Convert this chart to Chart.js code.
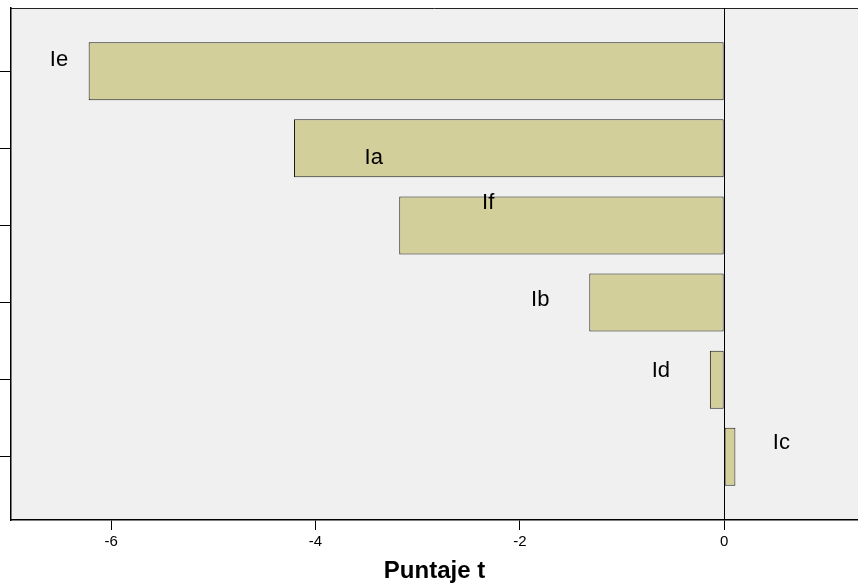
<!DOCTYPE html>
<html lang="es">
<head>
  <meta charset="UTF-8">
  <title>Puntaje t</title>
  <script src="https://cdn.jsdelivr.net/npm/chart.js"></script>
  <style>
    body { margin: 0; background: #ffffff; }
    #wrap { width: 858px; height: 587px; }
  </style>
</head>
<body>
  <div id="wrap"><canvas id="tChart"></canvas></div>

  <script>
    // datos
    const categories = ['Ie', 'Ia', 'If', 'Ib', 'Id', 'Ic'];
    const tValues = [-6.22, -4.21, -3.18, -1.32, -0.14, 0.11];
    const xTicks = [-6, -4, -2, 0];

    // donde van las etiquetas de cada barra (unidades del eje)
    const labelPosX = [-6.51, -3.43, -2.31, -1.80, -0.62, 0.56];
    const labelPosY = [-0.15, 0.12, -0.29, -0.04, -0.11, -0.18];

    const FONT = '"Liberation Sans", Arial, sans-serif';

    const plotBg = {
      id: 'plotBg',
      beforeDraw(chart) {
        const { ctx, chartArea: a } = chart;
        ctx.save();
        ctx.fillStyle = '#f0f0f0';
        ctx.fillRect(a.left, a.top, a.right - a.left, a.bottom - a.top);
        ctx.strokeStyle = '#222';
        ctx.lineWidth = 1;
        ctx.beginPath();
        ctx.moveTo(a.left, a.top + 0.5);
        ctx.lineTo(a.right, a.top + 0.5);
        ctx.stroke();
        ctx.restore();
      }
    };

    const barLabels = {
      id: 'barLabels',
      afterDatasetsDraw(chart) {
        const { ctx, scales } = chart;
        ctx.save();
        ctx.fillStyle = '#000';
        ctx.font = '22px ' + FONT;
        ctx.textAlign = 'center';
        ctx.textBaseline = 'middle';
        categories.forEach((c, i) => {
          ctx.fillText(c, scales.x.getPixelForValue(labelPosX[i]),
            scales.y.getPixelForValue(i + labelPosY[i]));
        });
        ctx.restore();
      }
    };

    new Chart(document.getElementById('tChart'), {
      type: 'bar',
      data: {
        datasets: [{
          data: tValues.map((v, i) => ({ x: v, y: i })),
          backgroundColor: '#d3cf9b',
          borderColor: '#1a1a1a',
          borderWidth: 1,
          borderSkipped: false,
          categoryPercentage: 1,
          barPercentage: 0.753
        }]
      },
      options: {
        indexAxis: 'y',
        responsive: true,
        maintainAspectRatio: false,
        animation: false,
        layout: { padding: { top: 8, right: 0, left: 0, bottom: 0 } },
        scales: {
          x: {
            type: 'linear',
            min: -6.98,
            max: 1.31,
            afterBuildTicks: axis => { axis.ticks = xTicks.map(v => ({ value: v })); },
            ticks: { color: '#000', font: { family: FONT, size: 15 }, padding: 3 },
            grid: {
              color: c => (c.tick && c.tick.value === 0 ? '#000' : 'rgba(0,0,0,0)'),
              tickColor: '#000',
              tickLength: 10,
              lineWidth: 1
            },
            border: { color: '#000', width: 1.5 },
            title: {
              display: true,
              text: 'Puntaje t',
              color: '#000',
              font: { family: FONT, size: 24, weight: 'bold', lineHeight: 1 },
              padding: { top: 5, bottom: 4 }
            }
          },
          y: {
            type: 'linear',
            reverse: true,
            offset: false,
            min: -0.82,
            max: 5.82,
            afterBuildTicks: axis => { axis.ticks = categories.map((c, i) => ({ value: i })); },
            ticks: { display: false },
            grid: {
              offset: false,
              drawOnChartArea: false,
              tickColor: '#000',
              tickLength: 11
            },
            border: { color: '#000', width: 1.5 }
          }
        },
        plugins: {
          legend: { display: false },
          tooltip: { enabled: false }
        }
      },
      plugins: [plotBg, barLabels]
    });
  </script>
</body>
</html>
